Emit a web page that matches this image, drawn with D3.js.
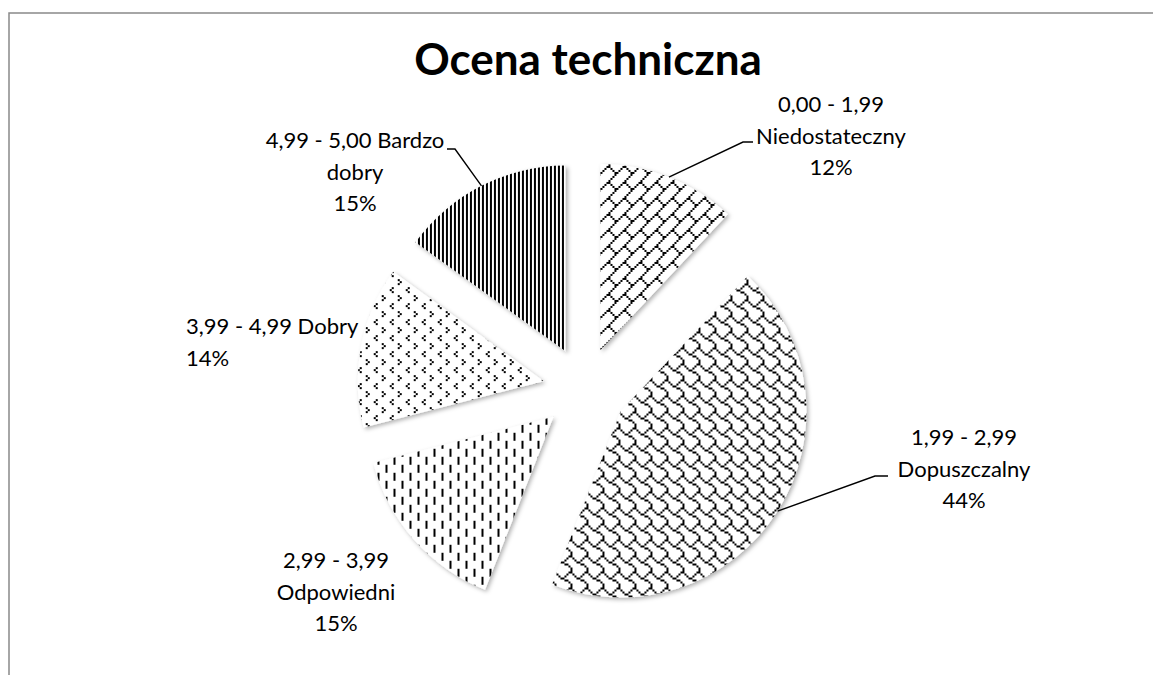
<!DOCTYPE html>
<html>
<head>
<meta charset="utf-8">
<script src="https://cdn.jsdelivr.net/npm/d3@7"></script>
<style>
  body { margin: 0; background: #fff; }
  text { font-family: Lato, "Noto Sans", sans-serif; fill: #000; }
</style>
</head>
<body>
<div id="chart"></div>
<script>
// chart data
var ranges = ["0,00 - 1,99", "1,99 - 2,99", "2,99 - 3,99", "3,99 - 4,99", "4,99 - 5,00"];
var names = ["Niedostateczny", "Dopuszczalny", "Odpowiedni", "Dobry", "Bardzo dobry"];
var values = [12, 44, 15, 14, 15];

// layout
var width = 1153, height = 675;
var cx = 585, cy = 389;
var radius = 186;
var explode = 42;
var lineGap = 31.5;

// 8x8 fill patterns (Excel style), drawn at 2x
var bitmaps = {
    brick:    [0x01, 0x02, 0x04, 0x08, 0x18, 0x24, 0x42, 0x81],
    shingle:  [0x03, 0x84, 0x48, 0x30, 0x0C, 0x02, 0x01, 0x01],
    dashvert: [0x08, 0x08, 0x08, 0x08, 0x80, 0x80, 0x80, 0x80],
    divot:    [0x00, 0x08, 0x10, 0x08, 0x00, 0x01, 0x80, 0x01],
    narvert:  [0xAA, 0xAA, 0xAA, 0xAA, 0xAA, 0xAA, 0xAA, 0xAA]
};
var slicePatterns = ["brick", "shingle", "dashvert", "divot", "narvert"];

// label placement: first baseline, anchor, words per line, leader elbow
var labelLayout = [
    {x: 831, y: 112, anchor: "middle", breaks: [3, 1, 1], leader: [[743, 142], [753, 142]]},
    {x: 964, y: 445, anchor: "middle", breaks: [3, 1, 1], leader: [[875, 476], [888, 476]]},
    {x: 336, y: 568, anchor: "middle", breaks: [3, 1, 1], leader: null},
    {x: 186, y: 334, anchor: "start",  breaks: [4, 1],    leader: null},
    {x: 355, y: 148, anchor: "middle", breaks: [4, 1, 1], leader: [[455, 149], [447, 149]]}
];

var total = d3.sum(values);

var svg = d3.select("#chart")
    .append("svg")
    .attr("width", width)
    .attr("height", height);

var defs = svg.append("defs");

var px = 2;
Object.keys(bitmaps).forEach(function(key) {
    var pat = defs.append("pattern")
        .attr("id", "pat-" + key)
        .attr("patternUnits", "userSpaceOnUse")
        .attr("width", 8 * px)
        .attr("height", 8 * px);
    pat.append("rect")
        .attr("width", 8 * px)
        .attr("height", 8 * px)
        .attr("fill", "#fff");
    bitmaps[key].forEach(function(row, y) {
        for (var x = 0; x < 8; x++) {
            if (row & (0x80 >> x)) {
                pat.append("rect")
                    .attr("x", x * px)
                    .attr("y", y * px)
                    .attr("width", px)
                    .attr("height", px)
                    .attr("fill", "#000");
            }
        }
    });
});

var shadow = defs.append("filter")
    .attr("id", "shadow")
    .attr("x", "-20%").attr("y", "-20%")
    .attr("width", "140%").attr("height", "140%");
shadow.append("feDropShadow")
    .attr("dx", 2).attr("dy", 2)
    .attr("stdDeviation", 2)
    .attr("flood-color", "#000")
    .attr("flood-opacity", 0.3);

// chart area border (only top and left visible)
svg.append("rect")
    .attr("x", 9)
    .attr("y", 13)
    .attr("width", width + 20)
    .attr("height", height + 20)
    .attr("fill", "none")
    .attr("stroke", "#898989")
    .attr("stroke-width", 1.5);

svg.append("text")
    .attr("x", 588)
    .attr("y", 75)
    .attr("text-anchor", "middle")
    .style("font-size", "44px")
    .style("font-weight", "bold")
    .text("Ocena techniczna");

var pie = d3.pie().sort(null).value(function(d) { return d; });
var arcs = pie(values);

var arc = d3.arc().innerRadius(0).outerRadius(radius);

var offset = function(d) {
    var a = (d.startAngle + d.endAngle) / 2;
    return [cx + explode * Math.sin(a), cy - explode * Math.cos(a)];
};

var g = svg.append("g");

g.selectAll("path.slice")
    .data(arcs)
    .enter()
    .append("path")
    .attr("class", "slice")
    .attr("transform", function(d) { return "translate(" + offset(d) + ")"; })
    .attr("d", arc)
    .attr("fill", function(d, i) { return "url(#pat-" + slicePatterns[i] + ")"; })
    .attr("filter", "url(#shadow)");

// leader lines
arcs.forEach(function(d, i) {
    var lay = labelLayout[i];
    if (!lay.leader) return;
    var o = offset(d);
    var a = (d.startAngle + d.endAngle) / 2;
    var start = [o[0] + radius * Math.sin(a), o[1] - radius * Math.cos(a)];
    var pts = [start].concat(lay.leader);
    svg.append("path")
        .attr("d", d3.line()(pts))
        .attr("fill", "none")
        .attr("stroke", "#000")
        .attr("stroke-width", 1.4);
});

// data labels
arcs.forEach(function(d, i) {
    var lay = labelLayout[i];
    var pct = Math.round(values[i] / total * 100) + "%";
    var words = (ranges[i] + " " + names[i] + " " + pct).split(" ");
    var lines = [], k = 0;
    lay.breaks.forEach(function(n) {
        lines.push(words.slice(k, k + n).join(" "));
        k += n;
    });
    var t = svg.append("text")
        .attr("text-anchor", lay.anchor)
        .style("font-size", "22px");
    lines.forEach(function(line, j) {
        t.append("tspan")
            .attr("x", lay.x)
            .attr("y", lay.y + j * lineGap)
            .text(line);
    });
});
</script>
</body>
</html>
